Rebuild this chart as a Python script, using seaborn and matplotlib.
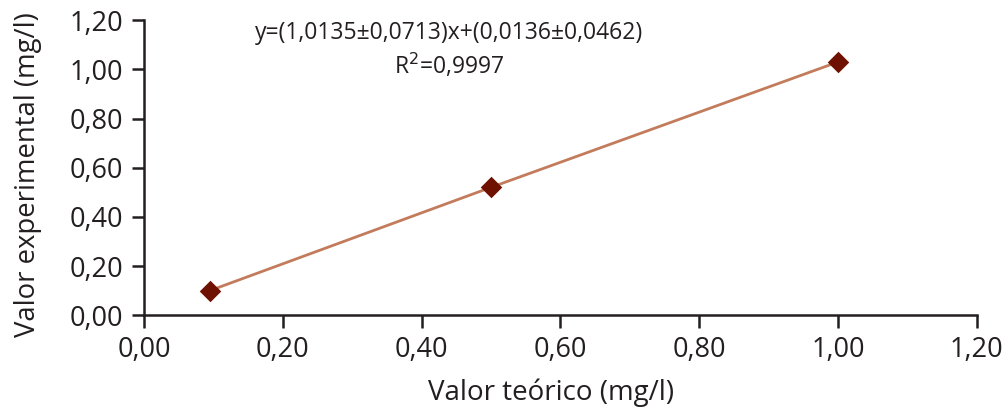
import matplotlib.pyplot as plt
import matplotlib.ticker as mticker
import pandas as pd
import seaborn as sns

# Data
valor_teorico = [0.095, 0.50, 1.00]
valor_experimental = [0.10, 0.52, 1.03]
ticks = [0.0, 0.2, 0.4, 0.6, 0.8, 1.0, 1.2]
ecuacion = "y=(1,0135±0,0713)x+(0,0136±0,0462)"
r2 = "R$^2$=0,9997"

df = pd.DataFrame({'teorico': valor_teorico, 'experimental': valor_experimental})

sns.set_style('ticks')
plt.rcParams['font.family'] = ['Open Sans', 'DejaVu Sans']

fig = plt.figure(figsize=(10.07, 4.12), dpi=100)
ax = fig.add_axes([0.143, 0.235, 0.827, 0.716])

sns.lineplot(data=df, x='teorico', y='experimental', ax=ax,
             color='#c27c5c', linewidth=2, zorder=2)
sns.scatterplot(data=df, x='teorico', y='experimental', ax=ax,
                marker='D', s=120, color='#6e1100', edgecolor='#6e1100',
                linewidth=0, zorder=3)

ax.set_xlim(0, 1.2)
ax.set_ylim(0, 1.2)
ax.set_xticks(ticks)
ax.set_yticks(ticks)
fmt = mticker.FuncFormatter(lambda v, p: f"{v:.2f}".replace('.', ','))
ax.xaxis.set_major_formatter(fmt)
ax.yaxis.set_major_formatter(fmt)
ax.tick_params(axis='both', labelsize=19.5, length=9, width=1.8,
               color='#231f20', labelcolor='#231f20', pad=6)

for side in ['top', 'right']:
    ax.spines[side].set_visible(False)
for side in ['left', 'bottom']:
    ax.spines[side].set_linewidth(1.8)
    ax.spines[side].set_color('#231f20')

ax.set_xlabel('Valor teórico (mg/l)', fontsize=20, color='#231f20')
ax.set_ylabel('Valor experimental (mg/l)', fontsize=19.8, color='#231f20')
ax.xaxis.set_label_coords(0.489, -0.215)
ax.xaxis.label.set_va('top')
ax.yaxis.set_label_coords(-0.122, 0.475)

ax.text(0.44, 1.147, ecuacion, fontsize=16.5, ha='center', va='center', color='#231f20')
ax.text(0.44, 1.013, r2, fontsize=16.5, ha='center', va='center', color='#231f20')

fig.savefig('out.png', dpi=100)
